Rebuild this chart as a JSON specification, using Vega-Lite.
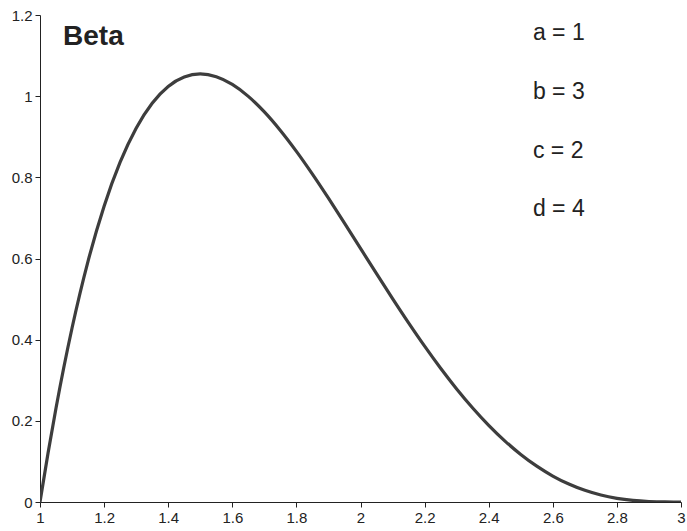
{
  "$schema": "https://vega.github.io/schema/vega-lite/v6.json",
  "width": 641,
  "height": 487,
  "autosize": {"type": "none"},
  "padding": {"left": 40, "top": 15, "right": 6, "bottom": 29},
  "background": "white",
  "config": {"view": {"stroke": null}, "font": "Liberation Sans"},
  "datasets": {
    "curve": [
      {"x": 1.0, "y": 0},
      {"x": 1.025, "y": 0.120371},
      {"x": 1.05, "y": 0.231715},
      {"x": 1.1, "y": 0.428688},
      {"x": 1.15, "y": 0.59359},
      {"x": 1.2, "y": 0.729},
      {"x": 1.25, "y": 0.837402},
      {"x": 1.3, "y": 0.921188},
      {"x": 1.35, "y": 0.982652},
      {"x": 1.4, "y": 1.024},
      {"x": 1.45, "y": 1.04734},
      {"x": 1.5, "y": 1.054688},
      {"x": 1.55, "y": 1.047965},
      {"x": 1.6, "y": 1.029},
      {"x": 1.65, "y": 0.999527},
      {"x": 1.7, "y": 0.961188},
      {"x": 1.75, "y": 0.915527},
      {"x": 1.8, "y": 0.864},
      {"x": 1.85, "y": 0.807965},
      {"x": 1.9, "y": 0.748688},
      {"x": 1.95, "y": 0.68734},
      {"x": 2.0, "y": 0.625},
      {"x": 2.05, "y": 0.562652},
      {"x": 2.1, "y": 0.501188},
      {"x": 2.15, "y": 0.441402},
      {"x": 2.2, "y": 0.384},
      {"x": 2.25, "y": 0.32959},
      {"x": 2.3, "y": 0.278688},
      {"x": 2.35, "y": 0.231715},
      {"x": 2.4, "y": 0.189},
      {"x": 2.45, "y": 0.150777},
      {"x": 2.5, "y": 0.117188},
      {"x": 2.55, "y": 0.088277},
      {"x": 2.6, "y": 0.064},
      {"x": 2.65, "y": 0.044215},
      {"x": 2.7, "y": 0.028688},
      {"x": 2.75, "y": 0.01709},
      {"x": 2.8, "y": 0.009},
      {"x": 2.85, "y": 0.003902},
      {"x": 2.9, "y": 0.001188},
      {"x": 2.95, "y": 0.000152},
      {"x": 3.0, "y": 0}
    ],
    "params": [
      {"x": 2.538, "y": 1.156, "label": "a = 1"},
      {"x": 2.538, "y": 1.011, "label": "b = 3"},
      {"x": 2.538, "y": 0.866, "label": "c = 2"},
      {"x": 2.538, "y": 0.721, "label": "d = 4"}
    ],
    "title": [
      {"x": 1.072, "y": 1.146, "label": "Beta"}
    ]
  },
  "layer": [
    {
      "data": {"name": "curve"},
      "mark": {"type": "line", "interpolate": "monotone", "color": "#3d3d3d", "strokeWidth": 3.2, "clip": true},
      "encoding": {
        "x": {
          "field": "x", "type": "quantitative",
          "scale": {"domain": [1, 3], "nice": false, "zero": false},
          "axis": {
            "title": null, "grid": false, "values": [1, 1.2, 1.4, 1.6, 1.8, 2, 2.2, 2.4, 2.6, 2.8, 3],
            "format": ".1~f", "domainColor": "#222", "tickColor": "#222", "tickSize": 5,
            "labelFontSize": 15, "labelColor": "#222", "labelPadding": 3, "labelFlush": false
          }
        },
        "y": {
          "field": "y", "type": "quantitative",
          "scale": {"domain": [0, 1.2], "nice": false},
          "axis": {
            "title": null, "grid": false, "values": [0, 0.2, 0.4, 0.6, 0.8, 1, 1.2],
            "format": ".1~f", "domainColor": "#222", "tickColor": "#222", "tickSize": 5,
            "labelFontSize": 15, "labelColor": "#222", "labelPadding": 3
          }
        }
      }
    },
    {
      "data": {"name": "params"},
      "mark": {"type": "text", "align": "left", "baseline": "middle", "fontSize": 23, "color": "#222"},
      "encoding": {
        "x": {"field": "x", "type": "quantitative"},
        "y": {"field": "y", "type": "quantitative"},
        "text": {"field": "label"}
      }
    },
    {
      "data": {"name": "title"},
      "mark": {"type": "text", "align": "left", "baseline": "middle", "fontSize": 28, "fontWeight": "bold", "color": "#222"},
      "encoding": {
        "x": {"field": "x", "type": "quantitative"},
        "y": {"field": "y", "type": "quantitative"},
        "text": {"field": "label"}
      }
    }
  ]
}
